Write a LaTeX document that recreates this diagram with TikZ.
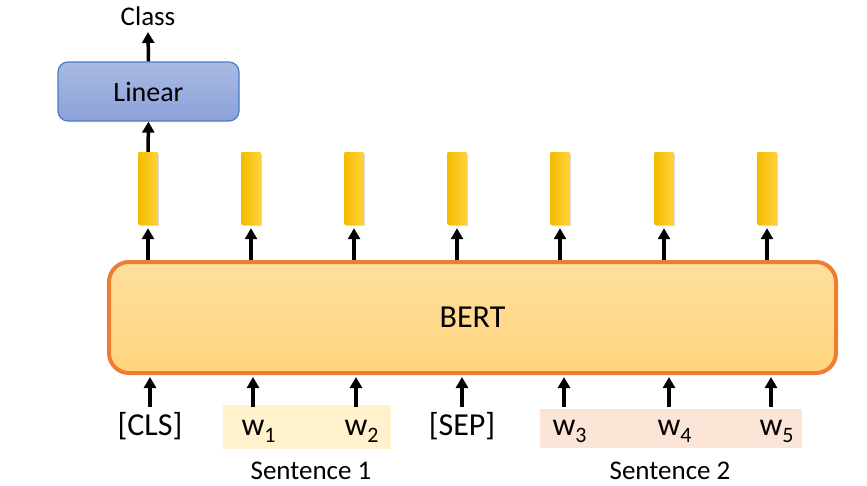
\documentclass[tikz,border=0pt]{standalone}
\usepackage{fontspec}
\setmainfont{Carlito}
\usepackage{xcolor}
\usetikzlibrary{arrows.meta,shadows}

\definecolor{bertborde}{HTML}{ED7D31}
\definecolor{bertarriba}{HTML}{FFDF9F}
\definecolor{bertabajo}{HTML}{FFD47C}
\definecolor{linealborde}{HTML}{4A7CC4}
\definecolor{linealarriba}{HTML}{A9B9E3}
\definecolor{linealabajo}{HTML}{8CA2D8}
\definecolor{barraizq}{HTML}{F4BC00}
\definecolor{barrader}{HTML}{FFD23A}
\definecolor{fondouno}{HTML}{FFF2CC}
\definecolor{fondodos}{HTML}{FBE5D6}

\newcommand{\tokw}[1]{w\rlap{\raisebox{-7pt}{\fontsize{22}{24}\selectfont #1}}}

\begin{document}
\begin{tikzpicture}[x=1pt,y=-1pt,
		flecha/.style={-{Triangle[width=12pt,length=11pt]}, line width=3.5pt},
		barra/.style={rectangle, minimum width=19pt, minimum height=72pt, inner sep=0pt,
				left color=barraizq, right color=barrader,
				drop shadow={shadow xshift=1.5pt, shadow yshift=-1.5pt, opacity=0.3}},
		token/.style={font=\fontsize{32}{38}\selectfont, text height=22pt, text depth=8pt,
				inner xsep=0pt, inner ysep=6pt}
	]
	\useasboundingbox (0,0) rectangle (867,485);

	% Fondos de las frases
	\fill[fondouno] (223,405) rectangle (391,449);
	\fill[fondodos] (540,409) rectangle (802,448);

	% Bloque BERT
	\node[rectangle, rounded corners=20pt, draw=bertborde, line width=4pt,
		top color=bertarriba, bottom color=bertabajo,
		minimum width=727pt, minimum height=111pt, font=\fontsize{32}{38}\selectfont]
		(bert) at (472.5,317.5) {BERT};

	% Capa lineal y salida
	\node[rectangle, rounded corners=10pt, draw=linealborde, line width=1.2pt,
		top color=linealarriba, bottom color=linealabajo,
		minimum width=181pt, minimum height=59pt, font=\fontsize{28}{34}\selectfont]
		(lineal) at (148.5,91.5) {Linear};
	\node[anchor=south, inner sep=0pt, inner ysep=6pt, font=\fontsize{27}{32}\selectfont]
		(clase) at (148,32) {Class};
	\draw[flecha] (lineal.north) -- (clase.south);

	% Vectores de salida
	\foreach \i/\x in {1/148,2/251,3/354,4/457,5/560,6/664,7/767}
		{
			\node[barra] (barra\i) at (\x,188) {};
			\draw[flecha] (bert.north -| barra\i) -- ([yshift=-4pt]barra\i.south);
		}
	\draw[flecha] (barra1.north) -- (lineal.south);

	% Tokens de entrada
	\foreach \i/\x/\t in {1/150/{[CLS]},2/253/{\tokw{1}},3/356/{\tokw{2}},4/462/{[SEP]},
			5/564/{\tokw{3}},6/669/{\tokw{4}},7/771/{\tokw{5}}}
		{
			\node[token] (tok\i) at (\x,428) {\t};
			\draw[flecha, shorten >=2pt] (tok\i.north) -- (bert.south -| tok\i);
		}

	% Etiquetas de las frases
	\node[font=\fontsize{27}{32}\selectfont] (frase1) at (311,471) {Sentence 1};
	\node[font=\fontsize{27}{32}\selectfont] (frase2) at (670,471) {Sentence 2};
\end{tikzpicture}
\end{document}
